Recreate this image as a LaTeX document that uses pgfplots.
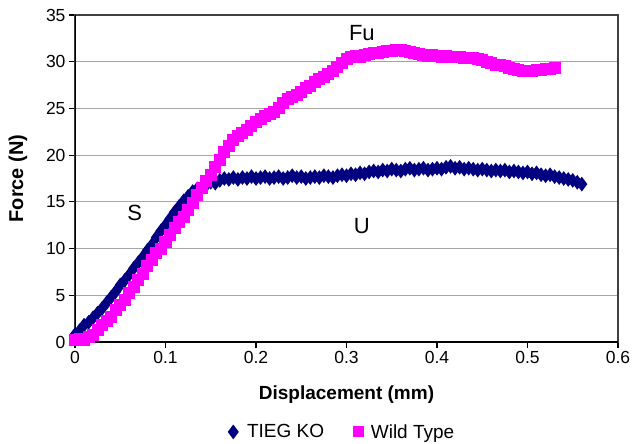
\documentclass[border=0pt]{standalone}
\usepackage{fontspec}
\setmainfont{Liberation Sans}
\usepackage{pgfplots}
\pgfplotsset{compat=1.18}
\definecolor{kocol}{RGB}{0,0,128}
\definecolor{wtcol}{RGB}{255,0,255}
\begin{document}
\begin{tikzpicture}
\begin{axis}[
    name=ax,
    scale only axis,
    width=543pt, height=327pt,
    xmin=0, xmax=0.6, ymin=0, ymax=35,
    xtick={0,0.1,...,0.6},
    ytick={0,5,...,35},
    xticklabels={0,0.1,0.2,0.3,0.4,0.5,0.6},
    /pgf/number format/assume math mode=true,
    ticklabel style={font=\fontsize{17.5}{17.5}\selectfont},
    tick align=outside,
    major tick length=6pt,
    tick style={black, line width=1.2pt},
    xtick pos=bottom, ytick pos=left,
    ymajorgrids,
    grid style={gray!70, line width=1pt},
    axis line style={black!75, line width=1.2pt},
    xlabel={\textbf{Displacement (mm)}},
    ylabel={\textbf{Force (N)}},
    xlabel style={font=\fontsize{19}{19}\selectfont, at={(axis description cs:0.5,-0.162)}, anchor=center},
    ylabel style={font=\fontsize{20}{20}\selectfont, at={(axis description cs:-0.105,0.5)}, anchor=center},
    legend columns=2,
    legend style={at={(axis description cs:0.49,-0.275)}, anchor=center, draw=none,
        font=\fontsize{19}{19}\selectfont, /tikz/every even column/.append style={column sep=26pt}},
]
\addplot[color=kocol, line width=3.5pt, mark=diamond*, mark size=4.5pt,
    legend image code/.code={\path (0cm,0cm) (0.55cm,0cm);
        \draw[kocol, fill=kocol, mark=diamond*, mark size=4.5pt] plot coordinates {(0.2cm,0cm)};}]
coordinates {
(0.000,0.8) (0.005,1.2) (0.010,1.8) (0.015,2.1) (0.020,2.6) (0.025,3.1)
(0.030,3.6) (0.035,4.2) (0.040,4.8) (0.045,5.4) (0.050,6.1) (0.055,6.6)
(0.060,7.2) (0.065,7.9) (0.070,8.5) (0.075,9.1) (0.080,9.8) (0.085,10.4)
(0.090,11.2) (0.095,11.9) (0.100,12.5) (0.105,13.2) (0.110,13.9) (0.115,14.5)
(0.120,15.1) (0.125,15.6) (0.130,16.1) (0.135,16.4) (0.140,16.6) (0.145,16.8)
(0.150,17.1) (0.155,17.0) (0.160,17.3) (0.165,17.5) (0.170,17.4) (0.175,17.6)
(0.180,17.4) (0.185,17.6) (0.190,17.5) (0.195,17.7) (0.200,17.5) (0.205,17.6)
(0.210,17.7) (0.215,17.5) (0.220,17.6) (0.225,17.7) (0.230,17.5) (0.235,17.6)
(0.240,17.8) (0.245,17.6) (0.250,17.7) (0.255,17.5) (0.260,17.6) (0.265,17.7)
(0.270,17.6) (0.275,17.8) (0.280,17.7) (0.285,17.6) (0.290,17.8) (0.295,17.9)
(0.300,17.8) (0.305,18.0) (0.310,17.9) (0.315,18.1) (0.320,18.0) (0.325,18.2)
(0.330,18.3) (0.335,18.2) (0.340,18.4) (0.345,18.3) (0.350,18.5) (0.355,18.4)
(0.360,18.3) (0.365,18.5) (0.370,18.6) (0.375,18.4) (0.380,18.5) (0.385,18.6)
(0.390,18.4) (0.395,18.5) (0.400,18.6) (0.405,18.5) (0.410,18.7) (0.415,18.8)
(0.420,18.6) (0.425,18.7) (0.430,18.5) (0.435,18.6) (0.440,18.5) (0.445,18.4)
(0.450,18.5) (0.455,18.4) (0.460,18.3) (0.465,18.4) (0.470,18.3) (0.475,18.4)
(0.480,18.2) (0.485,18.3) (0.490,18.2) (0.495,18.1) (0.500,18.2) (0.505,18.0)
(0.510,18.1) (0.515,17.9) (0.520,17.8) (0.525,17.9) (0.530,17.7) (0.535,17.6)
(0.540,17.5) (0.545,17.4) (0.550,17.3) (0.555,17.1) (0.560,16.9)
};
\addlegendentry{TIEG KO}
\addplot[color=wtcol, line width=4pt, mark=square*, mark size=4pt,
    legend image code/.code={\path (0cm,0cm) (0.45cm,0cm);
        \draw[wtcol, fill=wtcol, mark=square*, mark size=3.5pt] plot coordinates {(0.15cm,0cm)};}]
coordinates {
(0.000,0.2) (0.005,0.3) (0.010,0.2) (0.015,0.5) (0.020,0.8) (0.025,1.3)
(0.030,1.8) (0.035,2.2) (0.040,2.7) (0.045,3.4) (0.050,4.0) (0.055,4.5)
(0.060,5.2) (0.065,5.9) (0.070,6.6) (0.075,7.3) (0.080,8.1) (0.085,8.8)
(0.090,9.5) (0.095,10.0) (0.100,10.7) (0.105,11.4) (0.110,12.2) (0.115,12.8)
(0.120,13.4) (0.125,14.1) (0.130,14.9) (0.135,15.7) (0.140,16.5) (0.145,17.2)
(0.150,17.9) (0.155,18.7) (0.160,19.5) (0.165,20.3) (0.170,21.0) (0.175,21.6)
(0.180,22.0) (0.185,22.4) (0.190,22.7) (0.195,23.1) (0.200,23.6) (0.205,23.9)
(0.210,24.2) (0.215,24.4) (0.220,24.6) (0.225,25.0) (0.230,25.6) (0.235,26.0)
(0.240,26.2) (0.245,26.4) (0.250,26.8) (0.255,27.2) (0.260,27.4) (0.265,27.8)
(0.270,28.1) (0.275,28.4) (0.280,28.7) (0.285,29.0) (0.290,29.4) (0.295,29.9)
(0.300,30.3) (0.305,30.5) (0.310,30.6) (0.315,30.5) (0.320,30.7) (0.325,30.8)
(0.330,30.9) (0.335,30.9) (0.340,31.0) (0.345,31.1) (0.350,31.2) (0.355,31.3)
(0.360,31.3) (0.365,31.2) (0.370,31.0) (0.375,30.9) (0.380,30.8) (0.385,30.7)
(0.390,30.6) (0.395,30.7) (0.400,30.6) (0.405,30.5) (0.410,30.6) (0.415,30.5)
(0.420,30.5) (0.425,30.5) (0.430,30.4) (0.435,30.4) (0.440,30.4) (0.445,30.3)
(0.450,30.2) (0.455,30.0) (0.460,29.9) (0.465,29.7) (0.470,29.6) (0.475,29.5)
(0.480,29.3) (0.485,29.2) (0.490,29.1) (0.495,29.0) (0.500,29.0) (0.505,29.0)
(0.510,29.1) (0.515,29.1) (0.520,29.2) (0.525,29.2) (0.530,29.3)
};
\addlegendentry{Wild Type}
\draw[black, line width=2pt] (rel axis cs:0,1) -- (rel axis cs:0,0) -- (rel axis cs:1,0);
\node[font=\fontsize{22}{22}\selectfont] at (axis cs:0.066,13.8) {S};
\node[font=\fontsize{22}{22}\selectfont] at (axis cs:0.317,33.1) {Fu};
\node[font=\fontsize{22}{22}\selectfont] at (axis cs:0.317,12.4) {U};
\end{axis}
\pgfresetboundingbox
\path[use as bounding box] ([shift={(-75pt,-102pt)}]ax.south west) rectangle ([shift={(14pt,15pt)}]ax.north east);
\end{tikzpicture}
\end{document}
